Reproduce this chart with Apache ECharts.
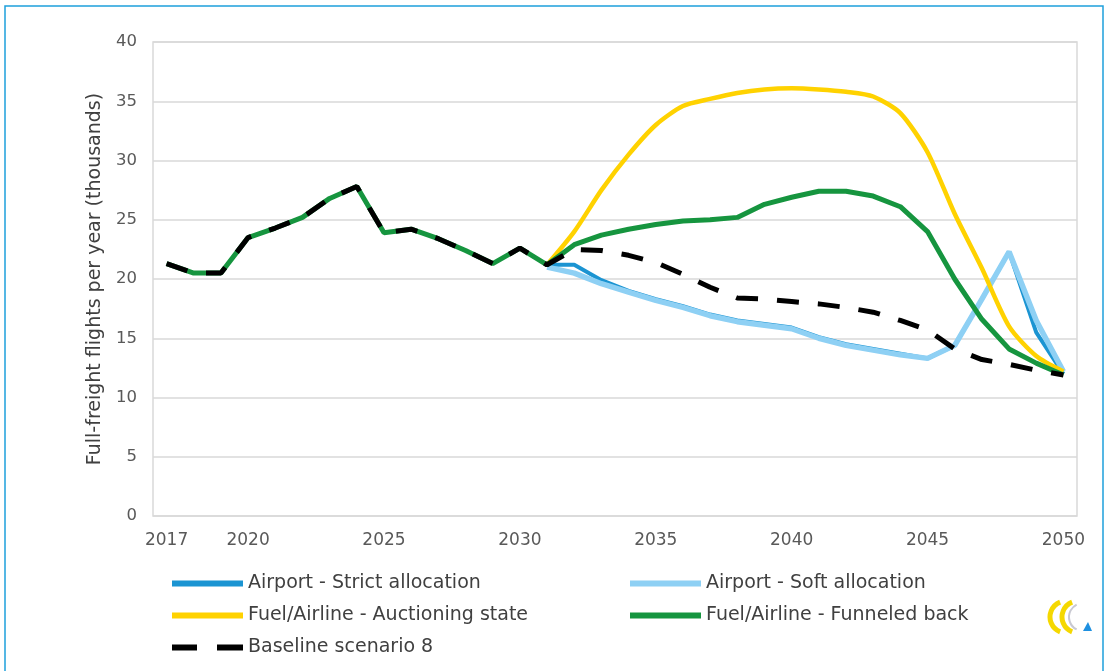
<!DOCTYPE html>
<html>
<head>
<meta charset="utf-8">
<script src="https://cdn.jsdelivr.net/npm/echarts@6/dist/echarts.min.js"></script>
<style>
html,body{margin:0;padding:0;background:#fff;}
#chart{width:1110px;height:671px;}
</style>
</head>
<body>
<div id="chart"></div>
<script>
const years = ['2017','2018','2019','2020','2021','2022','2023','2024','2025','2026','2027','2028','2029','2030','2031','2032','2033','2034','2035','2036','2037','2038','2039','2040','2041','2042','2043','2044','2045','2046','2047','2048','2049','2050'];
const shownYearLabels = ['2017','2020','2025','2030','2035','2040','2045','2050'];
const yTicks = [0,5,10,15,20,25,30,35,40];

const seriesNames = ['Airport - Strict allocation','Airport - Soft allocation','Fuel/Airline - Auctioning state','Fuel/Airline - Funneled back','Baseline scenario 8'];

const strictAlloc = [null,null,null,null,null,null,null,null,null,null,null,null,null,null,
  21.2,21.2,19.9,19.0,18.3,17.7,17.0,16.5,16.2,15.9,15.1,14.5,14.1,13.7,13.3,14.4,18.3,22.3,15.5,12.0];
const softAlloc = [null,null,null,null,null,null,null,null,null,null,null,null,null,null,
  21.0,20.5,19.6,18.9,18.2,17.6,16.9,16.4,16.1,15.8,15.0,14.4,14.0,13.6,13.3,14.4,18.3,22.3,16.5,12.2];
const auctioning = [null,null,null,null,null,null,null,null,null,null,null,null,null,null,
  21.2,24.0,27.5,30.5,33.0,34.6,35.2,35.7,36.0,36.1,36.0,35.8,35.4,34.0,30.7,25.5,20.9,16.0,13.5,12.2];
const funneled = [21.3,20.5,20.5,23.5,24.3,25.2,26.8,27.8,23.9,24.2,23.4,22.4,21.3,22.6,
  21.2,22.9,23.7,24.2,24.6,24.9,25.0,25.2,26.3,26.9,27.4,27.4,27.0,26.1,24.0,20.0,16.6,14.1,12.9,11.9];
const baseline = [21.3,20.5,20.5,23.5,24.3,25.2,26.8,27.8,23.9,24.2,23.4,22.4,21.3,22.6,
  21.2,22.5,22.4,22.0,21.4,20.4,19.3,18.4,18.3,18.1,17.9,17.6,17.2,16.5,15.7,14.1,13.2,12.8,12.3,11.9];

const chart = echarts.init(document.getElementById('chart'), null, {renderer:'canvas'});
const textColor = '#404040';
const fontFam = '"DejaVu Sans", "Open Sans", sans-serif';
const dashIcon = 'path://M0,0h25v6h-25z M45,0h26v6h-26z';

chart.setOption({
  backgroundColor:'#ffffff',
  animation:false,
  grid:{left:153,right:33,top:42,bottom:155,show:true,borderColor:'#D9D9D9',borderWidth:1.5},
  xAxis:{
    type:'category',
    data:years,
    boundaryGap:true,
    axisLine:{show:false},
    axisTick:{show:false},
    splitLine:{show:false},
    axisLabel:{
      interval:function(i,v){return shownYearLabels.indexOf(v)>=0;},
      color:'#595959',fontSize:17,fontFamily:fontFam,margin:16
    }
  },
  yAxis:{
    type:'value',min:0,max:40,interval:5,
    name:'Full-freight flights per year (thousands)',
    nameLocation:'middle',nameRotate:90,nameGap:48,
    nameTextStyle:{color:textColor,fontSize:19,fontFamily:fontFam},
    axisLine:{show:false},axisTick:{show:false},
    axisLabel:{color:'#595959',fontSize:16.5,fontFamily:fontFam,margin:16,
      formatter:function(v){return yTicks.indexOf(v)>=0?String(v):'';}},
    splitLine:{lineStyle:{color:'#D9D9D9',width:1.5}}
  },
  legend:[
    {data:[{name:seriesNames[0],icon:'rect'},{name:seriesNames[2],icon:'rect'},{name:seriesNames[4],icon:dashIcon}],
     orient:'vertical',left:167,top:569,
     itemWidth:71,itemHeight:6,itemGap:13,
     textStyle:{color:textColor,fontSize:19,fontFamily:fontFam}},
    {data:[{name:seriesNames[1],icon:'rect'},{name:seriesNames[3],icon:'rect'}],
     orient:'vertical',left:625,top:569,
     itemWidth:71,itemHeight:6,itemGap:13,
     textStyle:{color:textColor,fontSize:19,fontFamily:fontFam}}
  ],
  series:[
    {name:seriesNames[0],type:'line',data:strictAlloc,symbol:'none',
     lineStyle:{color:'#1B94D2',width:4},itemStyle:{color:'#1B94D2'}},
    {name:seriesNames[1],type:'line',data:softAlloc,symbol:'none',
     lineStyle:{color:'#8ED0F4',width:5.5},itemStyle:{color:'#8ED0F4'}},
    {name:seriesNames[2],type:'line',data:auctioning,symbol:'none',smooth:0.25,
     lineStyle:{color:'#FFD200',width:4.5},itemStyle:{color:'#FFD200'}},
    {name:seriesNames[3],type:'line',data:funneled,symbol:'none',
     lineStyle:{color:'#16953F',width:5},itemStyle:{color:'#16953F'}},
    {name:seriesNames[4],type:'line',data:baseline,symbol:'none',
     lineStyle:{color:'#000000',width:5,type:[22,19]},itemStyle:{color:'#000000'}}
  ],
  graphic:[
    {type:'rect',shape:{x:5,y:6,width:1098,height:690},
     style:{fill:null,stroke:'#1EA0DC',lineWidth:1.5},silent:true},
    {type:'arc',shape:{cx:1066,cy:617,r:16,startAngle:Math.PI*0.62,endAngle:Math.PI*1.38},
     style:{fill:null,stroke:'#F5D800',lineWidth:5},silent:true},
    {type:'arc',shape:{cx:1078,cy:617,r:16,startAngle:Math.PI*0.62,endAngle:Math.PI*1.38},
     style:{fill:null,stroke:'#F5D800',lineWidth:5},silent:true},
    {type:'arc',shape:{cx:1083,cy:617,r:14,startAngle:Math.PI*0.65,endAngle:Math.PI*1.35},
     style:{fill:null,stroke:'#C9C9D2',lineWidth:2},silent:true},
    {type:'polygon',shape:{points:[[1083,631],[1092,631],[1088,622]]},
     style:{fill:'#1E90E0'},silent:true}
  ]
});
</script>
</body>
</html>
